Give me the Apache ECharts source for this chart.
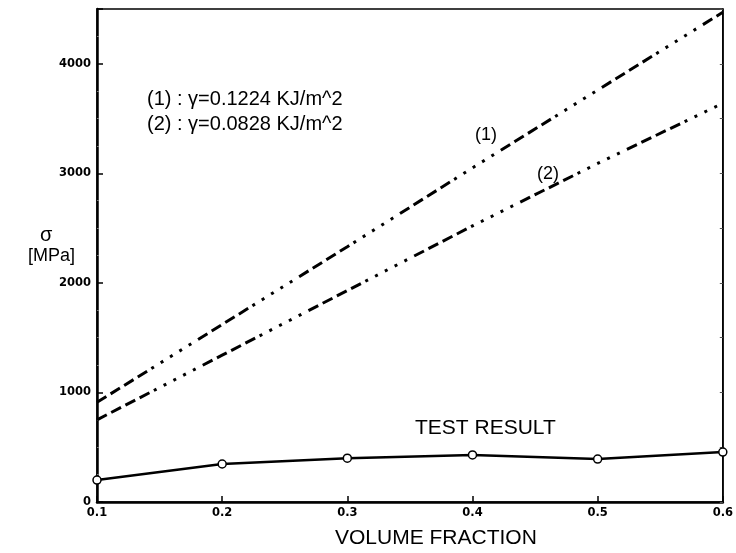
<!DOCTYPE html>
<html>
<head>
<meta charset="utf-8">
<script src="https://cdn.jsdelivr.net/npm/echarts@6/dist/echarts.min.js"></script>
<style>
  html, body { margin: 0; padding: 0; background: #fff; }
  #chart { width: 736px; height: 553px; }
</style>
</head>
<body>
<div id="chart"></div>
<script>
// data
const volumeFraction = [0.1, 0.2, 0.3, 0.4, 0.5, 0.6]
const gamma1Values = [910, 1620, 2330, 3050, 3760, 4470]
const gamma2Values = [750, 1340, 1930, 2520, 3090, 3640]
const testValues = [200, 347, 400, 430, 392, 456]
const yTicks = [0, 1000, 2000, 3000, 4000]

const pair = vals => volumeFraction.map((x, i) => [x, vals[i]])

// long dashes then dots, like the printed curves
const dashDot = [11, 5, 11, 5, 11, 5, 11, 5, 3, 8, 3, 8, 3, 8, 3, 8, 3, 8]
const font = 'Liberation Sans, Arial, sans-serif'
const tickFont = { color: '#000', fontFamily: 'DejaVu Sans', fontWeight: 'bold', fontSize: 11.5 }

const chart = echarts.init(document.getElementById('chart'))
chart.setOption({
  animation: false,
  grid: {
    left: 97, right: 11, top: 9, bottom: 51,
    show: true, borderColor: '#000', borderWidth: 1.5
  },
  xAxis: {
    type: 'value', min: 0.1, max: 0.6, interval: 0.1,
    axisLine: { lineStyle: { color: '#000', width: 2.5 } },
    axisTick: { inside: true, length: 6, lineStyle: { color: '#000', width: 1.5 } },
    splitLine: { show: false },
    axisLabel: { ...tickFont, margin: 5, formatter: v => v.toFixed(1) }
  },
  yAxis: [
    {
      type: 'value', min: 0, max: 4500, interval: 1000,
      axisLine: { show: true, lineStyle: { color: '#000', width: 2.5 } },
      axisTick: { show: true, inside: true, length: 6, lineStyle: { color: '#000', width: 1.5 } },
      minorTick: { show: true, splitNumber: 4, length: 2, lineStyle: { color: '#777', width: 1 } },
      splitLine: { show: false },
      axisLabel: {
        ...tickFont, margin: 6, showMaxLabel: false,
        formatter: v => (yTicks.includes(v) ? String(v) : '')
      }
    },
    {
      type: 'value', min: 0, max: 4500, interval: 500, position: 'right',
      axisLine: { show: true, lineStyle: { color: '#000', width: 1.5 } },
      axisTick: { show: true, inside: true, length: 3, lineStyle: { color: '#555', width: 1 } },
      splitLine: { show: false },
      axisLabel: { show: false }
    }
  ],
  series: [
    {
      name: '(1)', type: 'line', data: pair(gamma1Values),
      showSymbol: false, silent: true,
      lineStyle: { color: '#000', width: 3, type: dashDot }
    },
    {
      name: '(2)', type: 'line', data: pair(gamma2Values),
      showSymbol: false, silent: true,
      lineStyle: { color: '#000', width: 3, type: dashDot }
    },
    {
      name: 'TEST RESULT', type: 'line', data: pair(testValues),
      symbol: 'circle', symbolSize: 8,
      itemStyle: { color: '#fff', borderColor: '#000', borderWidth: 1.5 },
      lineStyle: { color: '#000', width: 2.5 }
    }
  ],
  graphic: [
    { type: 'text', left: 147, top: 89, style: { text: '(1) : γ=0.1224 KJ/m^2', font: '20px ' + font, fill: '#000' } },
    { type: 'text', left: 147, top: 114, style: { text: '(2) : γ=0.0828 KJ/m^2', font: '20px ' + font, fill: '#000' } },
    { type: 'text', left: 475, top: 126, style: { text: '(1)', font: '18px ' + font, fill: '#000' } },
    { type: 'text', left: 537, top: 165, style: { text: '(2)', font: '18px ' + font, fill: '#000' } },
    { type: 'text', left: 415, top: 418, style: { text: 'TEST RESULT', font: '21px ' + font, fill: '#000' } },
    { type: 'text', left: 335, top: 528, style: { text: 'VOLUME FRACTION', font: '21px ' + font, fill: '#000' } },
    { type: 'text', left: 40, top: 225, style: { text: 'σ', font: '20px ' + font, fill: '#000' } },
    { type: 'text', left: 28, top: 247, style: { text: '[MPa]', font: '18px ' + font, fill: '#000' } }
  ]
})
</script>
</body>
</html>
